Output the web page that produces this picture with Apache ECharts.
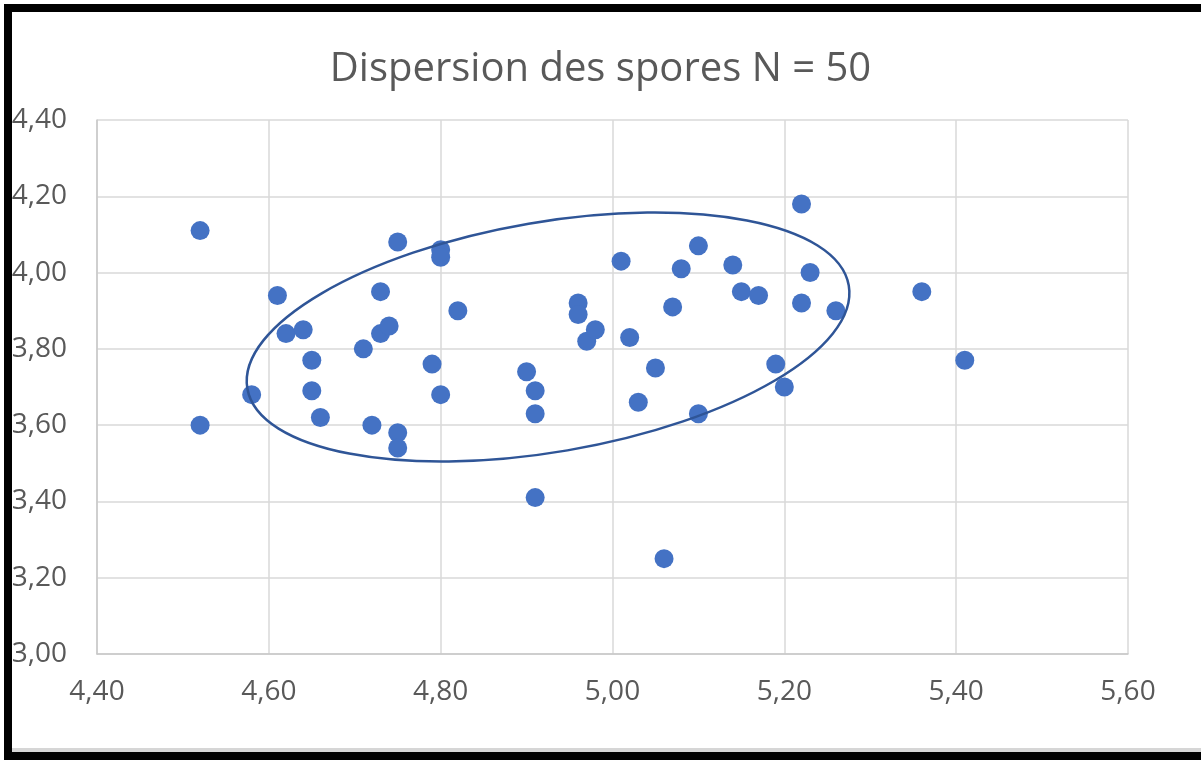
<!DOCTYPE html>
<html>
<head>
<meta charset="utf-8">
<script src="https://cdn.jsdelivr.net/npm/echarts@6/dist/echarts.min.js"></script>
<style>
  html, body { margin: 0; padding: 0; background: #fff; }
  #chart { position: absolute; left: 0; top: 0; width: 1201px; height: 760px; }
  #frame {
    position: absolute; left: 4px; top: 4px; width: 1197px; height: 756px;
    box-sizing: border-box; border-top: 8px solid #000; border-left: 8px solid #000;
    border-bottom: 8px solid #000; pointer-events: none;
  }
  #shade { position: absolute; left: 12px; top: 748px; width: 1189px; height: 4px; background: #d6d6d6; }
</style>
</head>
<body>
<div id="chart"></div>
<div id="shade"></div>
<div id="frame"></div>
<script>
// spore length (x) / width (y)
const sporeX = [4.52, 4.52, 4.58, 4.61, 4.62, 4.64, 4.65, 4.65, 4.66, 4.71,
                4.72, 4.73, 4.73, 4.74, 4.75, 4.75, 4.75, 4.79, 4.80, 4.80,
                4.80, 4.82, 4.90, 4.91, 4.91, 4.91, 4.96, 4.96, 4.97, 4.98,
                5.01, 5.02, 5.03, 5.05, 5.06, 5.07, 5.08, 5.10, 5.10, 5.14,
                5.15, 5.17, 5.19, 5.20, 5.22, 5.22, 5.23, 5.26, 5.36, 5.41];
const sporeY = [4.11, 3.60, 3.68, 3.94, 3.84, 3.85, 3.77, 3.69, 3.62, 3.80,
                3.60, 3.95, 3.84, 3.86, 4.08, 3.58, 3.54, 3.76, 4.06, 4.04,
                3.68, 3.90, 3.74, 3.69, 3.63, 3.41, 3.92, 3.89, 3.82, 3.85,
                4.03, 3.83, 3.66, 3.75, 3.25, 3.91, 4.01, 4.07, 3.63, 4.02,
                3.95, 3.94, 3.76, 3.70, 4.18, 3.92, 4.00, 3.90, 3.95, 3.77];

// hand-drawn ellipse: centre, end of major axis, end of minor axis (data units)
const ellipseCenter = [4.925, 3.831];
const ellipseMajorEnd = [5.275, 3.966];
const ellipseMinorEnd = [4.902, 4.128];

const xTicks = [4.4, 5.6, 0.2]; // min, max, step
const yTicks = [3.0, 4.4, 0.2];

const points = sporeX.map((x, i) => [x, sporeY[i]]);
const fmt = v => v.toFixed(2).replace('.', ',');
const labelFont = '"Open Sans", sans-serif';

const chart = echarts.init(document.getElementById('chart'));
chart.setOption({
  animation: false,
  title: {
    text: 'Dispersion des spores N = 50',
    left: 'center',
    top: 45,
    textStyle: { fontFamily: labelFont, fontSize: 40, fontWeight: 'normal', color: '#595959' }
  },
  grid: { left: 97, right: 73, top: 120, bottom: 106 },
  xAxis: {
    type: 'value',
    min: xTicks[0], max: xTicks[1], interval: xTicks[2],
    axisLine: { lineStyle: { color: '#c8c8c8', width: 1.5 } },
    axisTick: { show: false },
    splitLine: { lineStyle: { color: '#d9d9d9', width: 1.5 } },
    axisLabel: { formatter: fmt, margin: 24, fontFamily: labelFont, fontSize: 28, color: '#595959' }
  },
  yAxis: {
    type: 'value',
    min: yTicks[0], max: yTicks[1], interval: yTicks[2],
    axisLine: { show: true, lineStyle: { color: '#c8c8c8', width: 1.5 } },
    axisTick: { show: false },
    splitLine: { lineStyle: { color: '#d9d9d9', width: 1.5 } },
    axisLabel: { formatter: fmt, margin: 30, fontFamily: labelFont, fontSize: 28, color: '#595959' }
  },
  series: [
    {
      type: 'scatter',
      data: points,
      symbolSize: 19,
      itemStyle: { color: '#4472c4', opacity: 1 },
      z: 2
    },
    {
      type: 'custom',
      z: 5,
      data: [[...ellipseCenter, ...ellipseMajorEnd, ...ellipseMinorEnd]],
      encode: { x: [0, 2, 4], y: [1, 3, 5] },
      renderItem: function (params, api) {
        const c = api.coord([api.value(0), api.value(1)]);
        const m = api.coord([api.value(2), api.value(3)]);
        const n = api.coord([api.value(4), api.value(5)]);
        const rx = Math.hypot(m[0] - c[0], m[1] - c[1]);
        const ry = Math.hypot(n[0] - c[0], n[1] - c[1]);
        return {
          type: 'ellipse',
          x: c[0], y: c[1],
          rotation: Math.atan2(c[1] - m[1], m[0] - c[0]),
          shape: { cx: 0, cy: 0, rx: rx, ry: ry },
          style: { fill: 'none', stroke: '#2f5597', lineWidth: 2.5 }
        };
      }
    }
  ]
});
</script>
</body>
</html>
